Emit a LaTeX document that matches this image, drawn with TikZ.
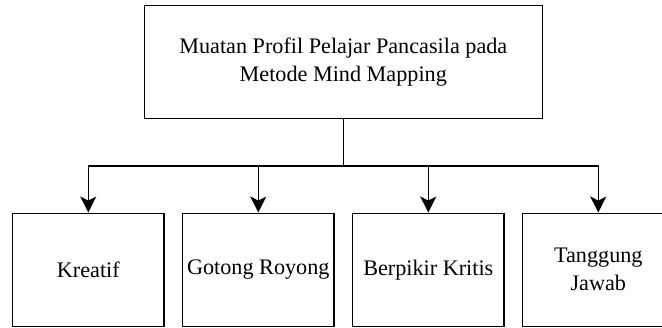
\documentclass[tikz,border=0pt]{standalone}
\usepackage{fontspec}
\setmainfont{Liberation Serif}
\newfontfamily\timesfont{Liberation Serif}
\usetikzlibrary{arrows.meta, positioning}

\begin{document}
\begin{tikzpicture}[
  x=1pt, y=1pt,
  node distance=17.2pt,
  box/.style={draw, line width=1.5pt, minimum width=151.3pt, minimum height=113pt, inner sep=2pt, align=center, font=\timesfont\fontsize{22.2}{28}\selectfont},
  arr/.style={-{Stealth[length=16pt, width=16pt, inset=4pt]}, line width=1.5pt},
]
\useasboundingbox (0,0) rectangle (662,327);

\node[box, minimum width=398pt, minimum height=112.6pt] (muatan) at (343.3,265) {Muatan Profil Pelajar Pancasila pada\\Metode Mind Mapping};

\node[box] (kreatif) at (88.3,57.2) {Kreatif};
\node[box, right=of kreatif] (gotong) {Gotong Royong};
\node[box, right=of gotong] (kritis) {Berpikir Kritis};
\node[box, right=of kritis] (jawab) {Tanggung\\Jawab};

\coordinate (split) at (343.3,161);
\draw[line width=1.5pt] (muatan.south) -- (split);
\foreach \n in {kreatif, gotong, kritis, jawab}
  \draw[arr] (split) -| (\n.north);
\end{tikzpicture}
\end{document}
